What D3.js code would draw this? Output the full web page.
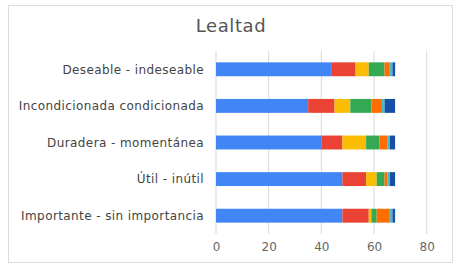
<!DOCTYPE html>
<html>
<head>
<meta charset="utf-8">
<script src="https://cdn.jsdelivr.net/npm/d3@7"></script>
<style>
  body { margin: 0; background: #fff; }
  text { font-family: "DejaVu Sans", sans-serif; }
</style>
</head>
<body>
<svg id="chart" width="460" height="271"></svg>
<script>
// categories top to bottom
const categories = ["Deseable - indeseable", "Incondicionada condicionada", "Duradera - momentánea", "Útil - inútil", "Importante - sin importancia"];
// one array per stacked series, same order as categories
const s1 = [44, 35, 40, 48, 48];
const s2 = [9, 10, 8, 9, 10];
const s3 = [5, 6, 9, 4, 1];
const s4 = [6, 8, 5, 3, 2];
const s5 = [2, 4, 3, 1, 5];
const s6 = [1, 1, 1, 1, 1];
const s7 = [1, 4, 2, 2, 1];
const ticks = [0, 20, 40, 60, 80];
const colors = ["#4285f4", "#ea4335", "#fbbc04", "#34a853", "#ff6d01", "#46bdc6", "#174ea6"];

const series = [s1, s2, s3, s4, s5, s6, s7];
const keys = series.map((s, i) => "s" + i);
const rows = categories.map((c, j) => {
  const r = { cat: c };
  series.forEach((s, i) => r[keys[i]] = s[j]);
  return r;
});

const svg = d3.select("#chart");

// card border
svg.append("rect")
  .attr("x", 8.5).attr("y", 5.5)
  .attr("width", 444).attr("height", 257)
  .attr("fill", "#fff")
  .attr("stroke", "#dcdcdc");

svg.append("text")
  .attr("x", 231).attr("y", 32)
  .attr("text-anchor", "middle")
  .attr("font-size", 18)
  .attr("letter-spacing", 0.6)
  .attr("fill", "#555")
  .text("Lealtad");

const x = d3.scaleLinear().domain([0, 80]).range([216, 426.7]);
const y = d3.scaleBand().domain(categories).range([51, 234]).paddingInner(0.62).paddingOuter(0.31);

// gridlines
svg.append("g").selectAll("line")
  .data(ticks)
  .join("line")
  .attr("x1", d => x(d)).attr("x2", d => x(d))
  .attr("y1", 51).attr("y2", 234)
  .attr("stroke", "#d9d9d9");

const stack = d3.stack().keys(keys)(rows);

svg.append("g").selectAll("g")
  .data(stack)
  .join("g")
  .attr("fill", (d, i) => colors[i])
  .selectAll("rect")
  .data(d => d)
  .join("rect")
  .attr("x", d => x(d[0]))
  .attr("width", d => x(d[1]) - x(d[0]))
  .attr("y", d => y(d.data.cat))
  .attr("height", y.bandwidth());

// category labels
svg.append("g").selectAll("text")
  .data(categories)
  .join("text")
  .attr("x", 204)
  .attr("y", d => y(d) + y.bandwidth() / 2)
  .attr("dy", "0.35em")
  .attr("text-anchor", "end")
  .attr("font-size", 12)
  .attr("letter-spacing", 0.4)
  .attr("fill", "#444")
  .text(d => d);

// x tick labels
const xAxis = d3.axisBottom(x).tickValues(ticks).tickSize(0).tickPadding(0);
const ax = svg.append("g")
  .attr("transform", "translate(0,242)")
  .call(xAxis);
ax.select(".domain").remove();
ax.selectAll("text")
  .attr("font-size", 12)
  .attr("fill", "#666")
  .attr("font-family", "\"DejaVu Sans\", sans-serif");
</script>
</body>
</html>
